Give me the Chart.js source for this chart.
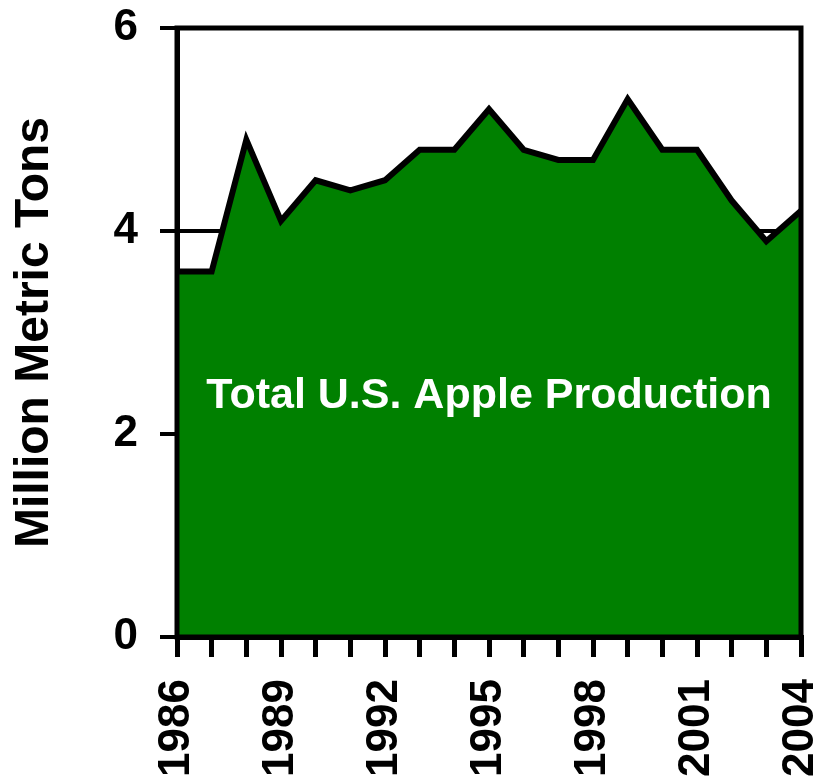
<!DOCTYPE html>
<html>
<head>
<meta charset="utf-8">
<script src="https://cdn.jsdelivr.net/npm/chart.js@4/dist/chart.umd.min.js"></script>
<style>
  html, body { margin: 0; padding: 0; background: #fff; }
  #wrap { width: 819px; height: 783px; }
</style>
</head>
<body>
<div id="wrap"><canvas id="appleChart"></canvas></div>
<script>
// US apple production, million metric tons
const years = ['1986','1987','1988','1989','1990','1991','1992','1993','1994','1995',
               '1996','1997','1998','1999','2000','2001','2002','2003','2004'];
const production = [3.6, 3.6, 4.9, 4.1, 4.5, 4.4, 4.5, 4.8, 4.8, 5.2,
                    4.8, 4.7, 4.7, 5.3, 4.8, 4.8, 4.3, 3.9, 4.2];
const shownYears = ['1986','1989','1992','1995','1998','2001','2004'];
const yTicks = [0, 2, 4, 6];
const seriesLabel = 'Total U.S. Apple Production';
const axisTitle = 'Million Metric Tons';

const FONT = "'Liberation Sans', Arial, sans-serif";

// frame around the plot + series caption
const framePlugin = {
    id: 'frame',
    afterDatasetsDraw(chart) {
        const { ctx, chartArea: a, scales } = chart;
        ctx.save();
        ctx.fillStyle = '#fff';
        ctx.font = 'bold 43px ' + FONT;
        ctx.textAlign = 'center';
        ctx.textBaseline = 'middle';
        ctx.fillText(seriesLabel, (a.left + a.right) / 2, scales.y.getPixelForValue(2.37));
        ctx.strokeStyle = '#000';
        ctx.lineWidth = 5;
        ctx.strokeRect(a.left, a.top, a.right - a.left, a.bottom - a.top);
        ctx.restore();
    }
};

const ctx = document.getElementById('appleChart').getContext('2d');
new Chart(ctx, {
    type: 'line',
    data: {
        labels: years,
        datasets: [{
            label: seriesLabel,
            data: production,
            fill: 'origin',
            backgroundColor: '#008000',
            borderColor: '#000',
            borderWidth: 6,
            borderJoinStyle: 'miter',
            pointRadius: 0,
            tension: 0
        }]
    },
    options: {
        responsive: true,
        maintainAspectRatio: false,
        animation: false,
        layout: { padding: { top: 28, right: 18, left: 0, bottom: 0 } },
        plugins: {
            legend: { display: false },
            tooltip: { enabled: false }
        },
        scales: {
            x: {
                grid: { drawOnChartArea: false, color: '#000', lineWidth: 5, tickLength: 20 },
                border: { color: '#000', width: 5 },
                ticks: {
                    autoSkip: false,
                    minRotation: 90,
                    maxRotation: 90,
                    padding: 22,
                    color: '#000',
                    font: { family: FONT, size: 44, weight: 'bold' },
                    callback: function (v) {
                        const lab = this.getLabelForValue(v);
                        return shownYears.includes(lab) ? lab : '';
                    }
                },
                afterFit(scale) {
                    scale.height = 146;
                    scale.paddingLeft = 0;
                    scale.paddingRight = 0;
                }
            },
            y: {
                min: 0,
                max: 6,
                afterBuildTicks(scale) { scale.ticks = yTicks.map(v => ({ value: v })); },
                grid: { color: '#000', lineWidth: 4, tickLength: 17 },
                border: { color: '#000', width: 5 },
                ticks: {
                    padding: 22,
                    color: '#000',
                    font: { family: FONT, size: 44, weight: 'bold' }
                },
                title: {
                    display: true,
                    text: axisTitle,
                    color: '#000',
                    padding: { top: 6, bottom: 0 },
                    font: { family: FONT, size: 48, weight: 'bold' }
                },
                afterFit(scale) {
                    scale.width = 177;
                    scale.paddingTop = 0;
                    scale.paddingBottom = 0;
                }
            }
        }
    },
    plugins: [framePlugin]
});
</script>
</body>
</html>
